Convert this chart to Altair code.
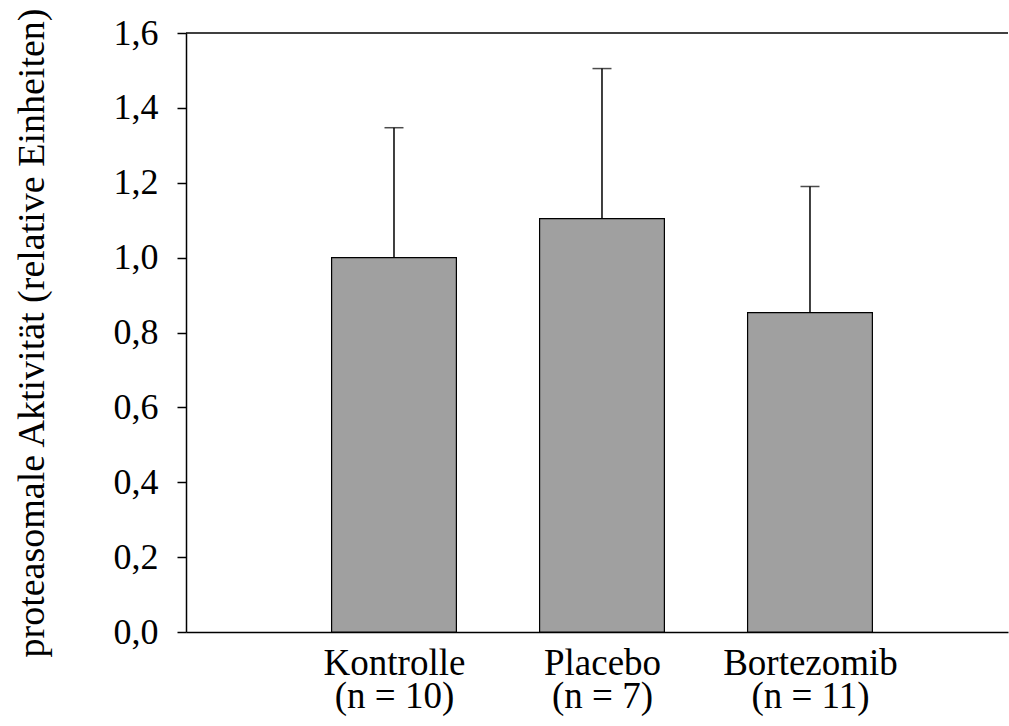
import altair as alt
import pandas as pd

# Proteasome activity per treatment group (mean and upper error bound)
groups = ["Kontrolle", "Placebo", "Bortezomib"]
n_labels = ["(n = 10)", "(n = 7)", "(n = 11)"]
positions = [1, 2, 3]
means = [1.00, 1.104, 0.853]
upper = [1.347, 1.505, 1.19]

y_ticks = [0.0, 0.2, 0.4, 0.6, 0.8, 1.0, 1.2, 1.4, 1.6]

df = pd.DataFrame({
    "pos": positions,
    "group": groups,
    "n": n_labels,
    "mean": means,
    "upper": upper,
})
df["left"] = df["pos"] - 0.3
df["right"] = df["pos"] + 0.3

FONT = "Liberation Serif"
W, H = 822, 599

# two-line category labels under each bar
label_expr = " : ".join(
    f"datum.value == {p} ? ['{g}', '{n}']" for p, g, n in zip(positions, groups, n_labels)
) + " : ''"

x_scale = alt.Scale(domain=[0, 3.952], nice=False, zero=False)
y_scale = alt.Scale(domain=[0, 1.6], nice=False)

x_axis = alt.Axis(
    values=positions, labelExpr=label_expr, title=None, ticks=False, grid=False,
    domain=True, domainColor="black", domainWidth=1.5, labelFont=FONT,
    labelFontSize=37, labelColor="black", labelPadding=13, labelLineHeight=33,
    labelAngle=0,
)
y_axis = alt.Axis(
    values=y_ticks, labelExpr="replace(format(datum.value, '.1f'), '.', ',')",
    title="proteasomale Aktivität (relative Einheiten)", grid=False,
    domainColor="black", domainWidth=1.5, tickColor="black", tickWidth=1.5,
    tickSize=9, labelFont=FONT, labelFontSize=36, labelColor="black",
    labelPadding=19, titleFont=FONT, titleFontSize=38, titleFontWeight="normal",
    titleColor="black", titlePadding=62,
)

base = alt.Chart(df)

bars = base.mark_bar(color="#a0a0a0", stroke="black", strokeWidth=1.2).encode(
    x=alt.X("left:Q", scale=x_scale, axis=x_axis),
    x2="right:Q",
    y=alt.Y("mean:Q", scale=y_scale, axis=y_axis),
    y2=alt.datum(0),
)

err = base.mark_rule(color="black", strokeWidth=1.5).encode(
    x=alt.X("pos:Q", scale=x_scale),
    y=alt.Y("mean:Q", scale=y_scale),
    y2="upper:Q",
)

caps = base.mark_tick(color="black", thickness=1.5, size=19, orient="horizontal").encode(
    x=alt.X("pos:Q", scale=x_scale),
    y=alt.Y("upper:Q", scale=y_scale),
)

top_line = alt.Chart(pd.DataFrame({"y": [1.6]})).mark_rule(
    color="black", strokeWidth=1.5
).encode(
    y=alt.Y("y:Q", scale=y_scale),
    x=alt.value(0),
    x2=alt.value(W),
)

chart = alt.layer(bars, err, caps, top_line).properties(
    width=W, height=H,
    autosize=alt.AutoSizeParams(type="none"),
    padding={"left": 186, "top": 33, "right": 1, "bottom": 94},
    background="white",
).configure_view(stroke=None)

chart.save("out.html", embed_options={"renderer": "svg", "actions": False})
